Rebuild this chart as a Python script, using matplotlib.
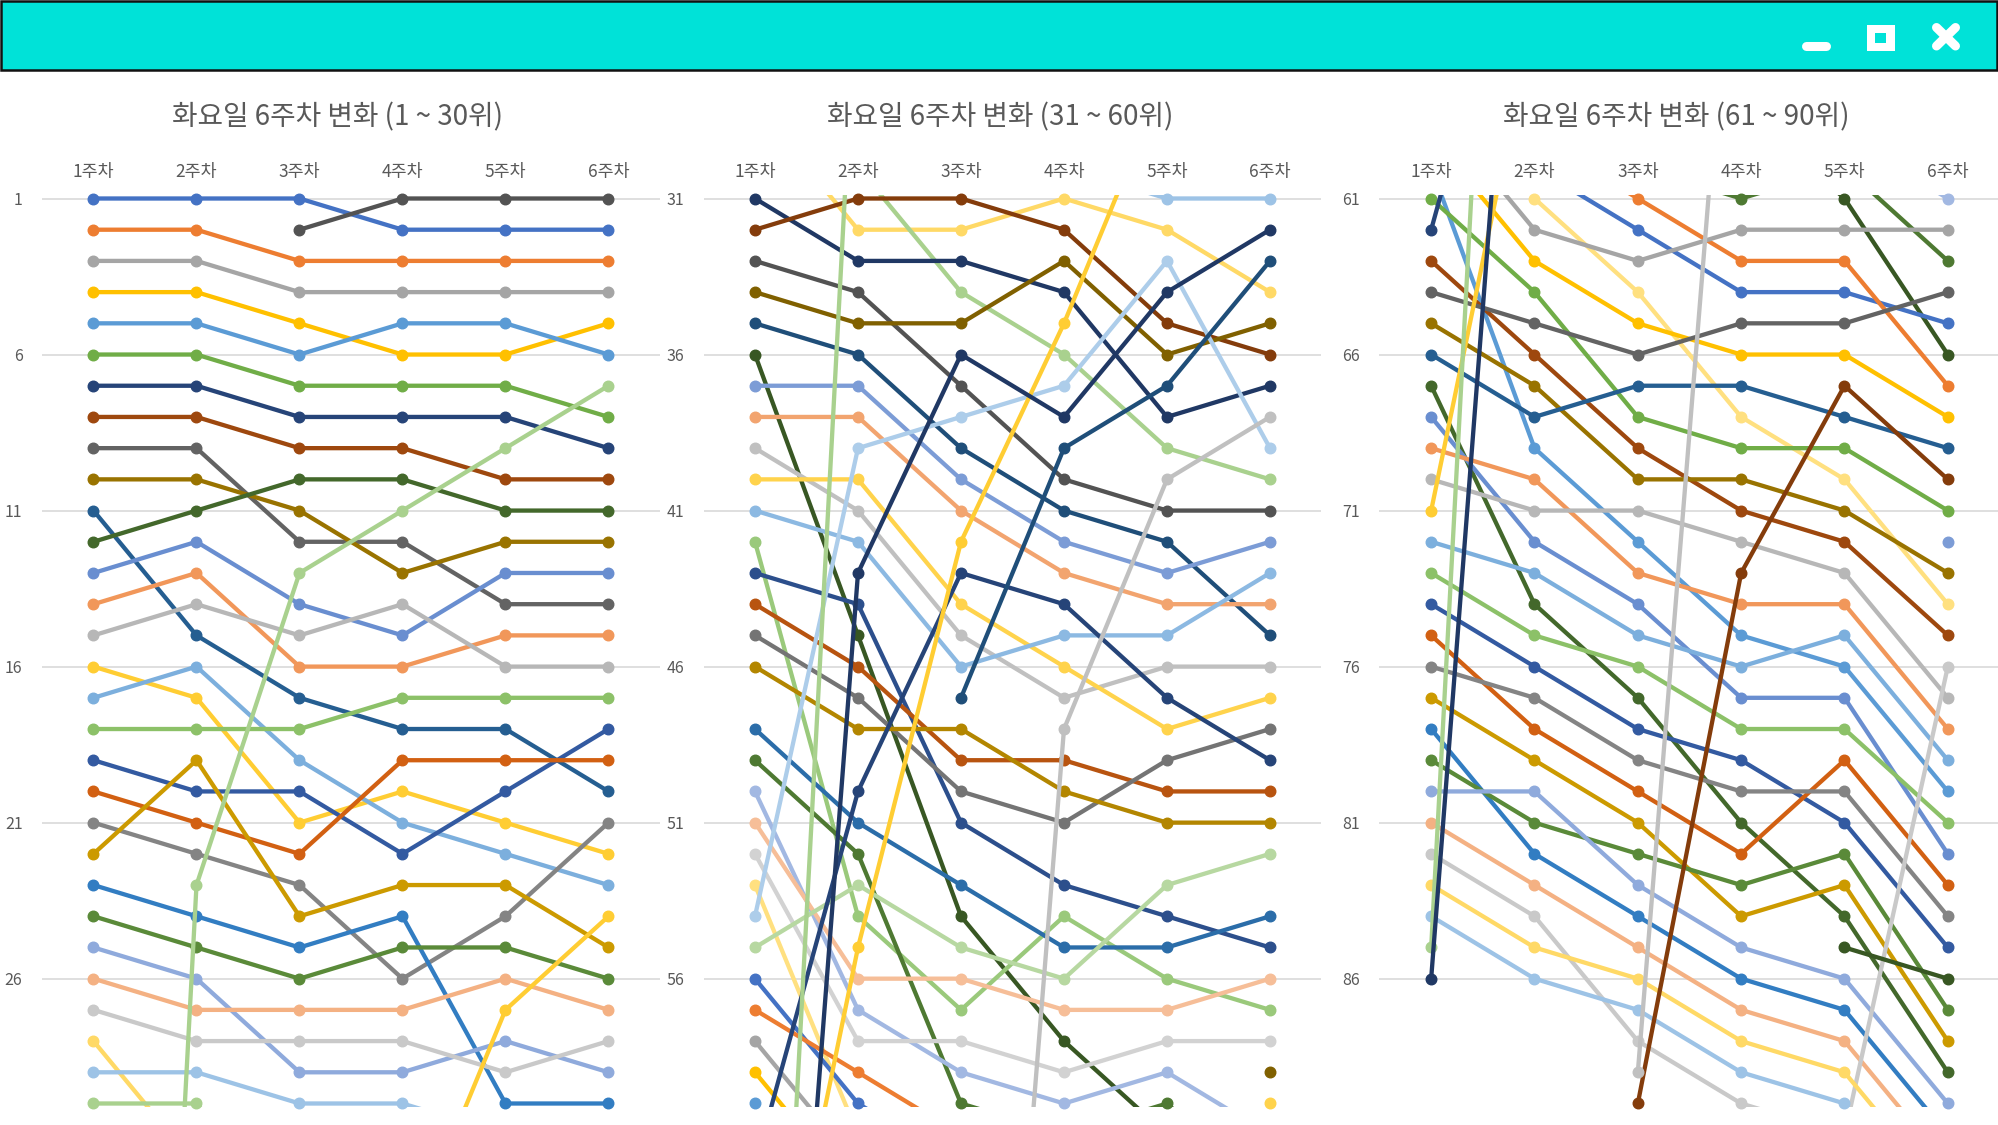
import colorsys
import numpy as np
import matplotlib
matplotlib.use("Agg")
import matplotlib.pyplot as plt
from matplotlib.patches import Rectangle

plt.rcParams['font.family'] = ['Noto Sans CJK KR', 'DejaVu Sans']

N = None
weeks = ["1주차", "2주차", "3주차", "4주차", "5주차", "6주차"]
panel_titles = ["화요일 6주차 변화 (1 ~ 30위)",
                "화요일 6주차 변화 (31 ~ 60위)",
                "화요일 6주차 변화 (61 ~ 90위)"]
panel_ranges = [(1, 30), (31, 60), (61, 90)]

# weekly ranks of items ranked 1-30 in week 1
ranks_top = [
    [1, 1, 1, 2, 2, 2], [2, 2, 3, 3, 3, 3], [3, 3, 4, 4, 4, 4],
    [4, 4, 5, 6, 6, 5], [5, 5, 6, 5, 5, 6], [6, 6, 7, 7, 7, 8],
    [7, 7, 8, 8, 8, 9], [8, 8, 9, 9, 10, 10], [9, 9, 12, 12, 14, 14],
    [10, 10, 11, 13, 12, 12], [11, 15, 17, 18, 18, 20], [12, 11, 10, 10, 11, 11],
    [13, 12, 14, 15, 13, 13], [14, 13, 16, 16, 15, 15], [15, 14, 15, 14, 16, 16],
    [16, 17, 21, 20, 21, 22], [17, 16, 19, 21, 22, 23], [18, 18, 18, 17, 17, 17],
    [19, 20, 20, 22, 20, 18], [20, 21, 22, 19, 19, 19], [21, 22, 23, 26, 24, 21],
    [22, 19, 24, 23, 23, 25], [23, 24, 25, 24, 30, 30], [24, 25, 26, 25, 25, 26],
    [25, 26, 29, 29, 28, 29], [26, 27, 27, 27, 26, 27], [27, 28, 28, 28, 29, 28],
    [28, 32, 32, 31, 32, 34], [29, 29, 30, 30, 31, 31], [30, 30, 34, 36, 39, 40],
]

# weekly ranks of items ranked 31-60 in week 1
ranks_mid = [
    [31, 33, 33, 34, 38, 37], [32, 31, 31, 32, 35, 36], [33, 34, 37, 40, 41, 41],
    [34, 35, 35, 33, 36, 35], [35, 36, 39, 41, 42, 45], [36, 45, 54, 58, 61, 66],
    [37, 37, 40, 42, 43, 42], [38, 38, 41, 43, 44, 44], [39, 41, 45, 47, 46, 46],
    [40, 40, 44, 46, 48, 47], [41, 42, 46, 45, 45, 43], [42, 54, 57, 54, 56, 57],
    [43, 44, 51, 53, 54, 55], [44, 46, 49, 49, 50, 50], [45, 47, 50, 51, 49, 48],
    [46, 48, 48, 50, 51, 51], [48, 51, 53, 55, 55, 54], [49, 52, 60, 61, 60, 63],
    [50, 57, 59, 60, 59, 61], [51, 56, 56, 57, 57, 56], [52, 58, 58, 59, 58, 58],
    [53, 61, 64, 68, 70, 74], [54, 39, 38, 37, 33, 39], [55, 53, 55, 56, 53, 52],
    [56, 60, 62, 64, 64, 65], [57, 59, 61, 63, 63, 67], [58, 62, 63, 62, 62, 62],
    [59, 63, 65, 66, 66, 68], [60, 69, 72, 75, 76, 80],
]

# weekly ranks of items ranked 61-86 in week 1
ranks_low = [
    [61, 64, 68, 69, 69, 71], [62, 50, 43, 44, 47, 49], [63, 66, 69, 71, 72, 75],
    [64, 65, 66, 65, 65, 64], [65, 67, 70, 70, 71, 73], [66, 68, 67, 67, 68, 69],
    [67, 74, 77, 81, 84, 89], [68, 72, 74, 77, 77, 82], [69, 70, 73, 74, 74, 78],
    [70, 71, 71, 72, 73, 77], [71, 55, 42, 35, 27, 24], [72, 73, 75, 76, 75, 79],
    [73, 75, 76, 78, 78, 81], [74, 76, 78, 79, 81, 85], [75, 78, 80, 82, 79, 83],
    [76, 77, 79, 80, 80, 84], [77, 79, 81, 84, 83, 88], [78, 82, 84, 86, 87, 91],
    [79, 81, 82, 83, 82, 87], [80, 80, 83, 85, 86, 90], [81, 83, 85, 87, 88, 92],
    [82, 84, 88, 90, 91, 76], [83, 85, 86, 88, 89, 93], [84, 86, 87, 89, 90, 94],
    [85, 23, 13, 11, 9, 7], [86, 43, 36, 38, 34, 32],
]

# items that entered after week 1
ranks_new = [
    [N, N, 90, 73, 67, 70], [N, N, 2, 1, 1, 1], [N, N, N, N, N, 59],
    [N, N, 47, 39, 37, 33], [N, N, N, N, 85, 86], [N, N, N, N, N, 72],
    [N, N, N, N, N, N], [N, N, 89, 48, 40, 38], [N, N, N, N, N, 60],
]

series = ranks_top + ranks_mid + ranks_low + ranks_new

# Office theme accents and Excel's series colour variations
ACCENTS = ["#4472C4", "#ED7D31", "#A5A5A5", "#FFC000", "#5B9BD5", "#70AD47"]
VARIANTS = [(1, 0), (0.6, 0), (0.8, 0.2), (0.8, 0), (0.6, 0.4),
            (0.5, 0), (0.7, 0.3), (0.7, 0), (0.5, 0.5)]


def series_color(i):
    i = i % 54
    base = ACCENTS[i % 6]
    mod, off = VARIANTS[i // 6]
    r, g, b = (int(base[k:k + 2], 16) / 255 for k in (1, 3, 5))
    h, l, s = colorsys.rgb_to_hls(r, g, b)
    l = min(1.0, l * mod + off)
    return colorsys.hls_to_rgb(h, l, s)


W, H = 1999, 1125
fig = plt.figure(figsize=(W / 100, H / 100), dpi=100)
fig.patch.set_facecolor("white")

TXT = "#595959"
GRID = "#D9D9D9"
ypad = 0.12
px_rank = 31.2
top_px = 198.5 - ypad * px_rank
bot_px = 1103.5 + ypad * px_rank
lefts = [42, 703.5, 1379.5]
widths = [618, 618, 620]
title_x = [338, 1000, 1676]

x = np.arange(1, 7)
for p, (lo, hi) in enumerate(panel_ranges):
    ax = fig.add_axes([lefts[p] / W, 1 - bot_px / H, widths[p] / W, (bot_px - top_px) / H])
    ax.set_xlim(0.5, 6.5)
    ax.set_ylim(hi + ypad, lo - ypad)
    for sp in ax.spines.values():
        sp.set_visible(False)
    yt = list(range(lo, hi + 1, 5))
    for t in yt:
        ax.axhline(t, color=GRID, lw=1.2, zorder=0)
    ax.set_yticks(yt)
    ax.set_yticklabels([str(t) for t in yt], fontsize=11.5, color=TXT)
    ax.xaxis.tick_top()
    ax.set_xticks(x)
    ax.set_xticklabels(weeks, fontsize=12.5, color=TXT)
    ax.tick_params(axis="both", length=0)
    ax.tick_params(axis="y", pad=14)
    ax.tick_params(axis="x", pad=10)
    for i, s in enumerate(series):
        y = np.array([np.nan if v is None else v for v in s], dtype=float)
        c = series_color(i)
        z = 2 + i * 0.01
        ax.plot(x, y, color=c, lw=3.1, solid_capstyle="round", zorder=z)
        m = (y >= lo) & (y <= hi)
        if m.any():
            ax.plot(x[m], y[m], "o", color=c, ms=7.6, mec=c, clip_on=False, zorder=z + 0.005)
    fig.text(title_x[p] / W, 1 - 117 / H, panel_titles[p], fontsize=20,
             color=TXT, ha="center", va="center")

# window title bar
ov = fig.add_axes([0, 0, 1, 1], zorder=20)
ov.set_xlim(0, W)
ov.set_ylim(H, 0)
ov.axis("off")
ov.patch.set_alpha(0)
bar = "#00E2D8"
ov.add_patch(Rectangle((1, 1), W - 3, 69, facecolor=bar, edgecolor="#111111", lw=1.8))
ov.plot([1806, 1826], [46, 46], color="white", lw=6.5, solid_capstyle="round")
ov.add_patch(Rectangle((1867, 24.5), 28, 26, facecolor="white", edgecolor="none"))
ov.add_patch(Rectangle((1875.5, 32.5), 11, 10, facecolor=bar, edgecolor="none"))
ov.plot([1936.5, 1955.5], [27.5, 46], color="white", lw=6.5, solid_capstyle="round")
ov.plot([1936.5, 1955.5], [46, 27.5], color="white", lw=6.5, solid_capstyle="round")

fig.savefig("out.png", dpi=100, facecolor="white")
